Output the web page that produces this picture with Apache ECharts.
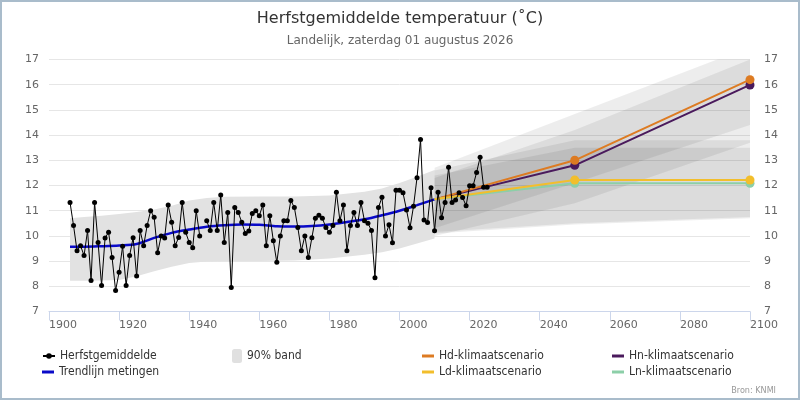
<!DOCTYPE html>
<html>
<head>
<meta charset="utf-8">
<script src="https://cdn.jsdelivr.net/npm/echarts@6/dist/echarts.min.js"></script>
<style>
  html, body { margin: 0; padding: 0; background: #fff; }
  #chart { width: 800px; height: 400px; }
</style>
</head>
<body>
<div id="chart"></div>
<script>
// herfstgemiddelde per jaar, vanaf 1906 (1944 ontbreekt)
var firstYear = 1906;
var autumnMean = [
  11.33, 10.41, 9.41, 9.61, 9.22, 10.21, 8.23, 11.33, 9.74, 8.03,
  9.92, 10.14, 9.14, 7.83, 8.56, 9.59, 8.03, 9.22, 9.93, 8.41,
  10.21, 9.61, 10.41, 11.0, 10.74, 9.33, 10.0, 9.92, 11.23, 10.54,
  9.61, 9.94, 11.33, 10.14, 9.74, 9.53, 11.0, 10.0, null, 10.6,
  10.21, 11.33, 10.21, 11.62, 9.74, 10.93, 7.95, 11.13, 10.93, 10.54,
  10.10, 10.19, 10.89, 11.0, 10.8, 11.23, 9.61, 10.8, 9.81, 8.95,
  10.0, 10.6, 10.6, 11.4, 11.13, 10.33, 9.41, 10.0, 9.14, 9.93,
  10.70, 10.82, 10.70, 10.33, 10.14, 10.41, 11.73, 10.60, 11.23, 9.41,
  10.41, 10.93, 10.41, 11.33, 10.60, 10.5, 10.21, 8.34, 11.13, 11.53,
  10.0, 10.44, 9.73, 11.81, 11.81, 11.71, 11.03, 10.32, 11.18, 12.31,
  13.83, 10.63, 10.53, 11.91, 10.2, 11.73, 10.72, 11.33, 12.72, 11.33,
  11.42, 11.71, 11.52, 11.2, 11.99, 11.99, 12.52, 13.12, 11.93, 11.93
];

// trendlijn metingen
var trendYears = [1906, 1910, 1915, 1920, 1925, 1930, 1935, 1940, 1945, 1950, 1955,
  1960, 1965, 1970, 1975, 1980, 1985, 1990, 1995, 2000, 2005, 2010];
var trendValues = [9.57, 9.57, 9.59, 9.62, 9.68, 9.92, 10.12, 10.25, 10.36, 10.42, 10.45,
  10.44, 10.38, 10.37, 10.39, 10.45, 10.55, 10.66, 10.82, 11.0, 11.22, 11.45];

// 90% band rond de trend
var bandYears = [1906, 1910, 1915, 1920, 1925, 1930, 1935, 1940, 1945, 1950, 1960,
  1970, 1980, 1990, 1995, 2000, 2005, 2010];
var bandLow = [8.22, 8.22, 8.23, 8.25, 8.4, 8.6, 8.78, 8.92, 8.98, 9.0, 9.0,
  9.02, 9.1, 9.25, 9.35, 9.5, 9.7, 9.9];
var bandHigh = [10.7, 10.75, 10.8, 10.87, 10.95, 11.05, 11.2, 11.4, 11.5, 11.55, 11.56,
  11.56, 11.6, 11.75, 11.88, 12.1, 12.35, 12.62];

// klimaatscenario's
var scenYears = [2010, 2050, 2100];
var hdValues = [11.45, 13.0, 16.2];
var hnValues = [11.45, 12.8, 15.99];
var ldValues = [11.45, 12.22, 12.22];
var lnValues = [11.45, 12.09, 12.09];

var hdLow = [10.3, 12.1, 14.4];
var hdHigh = [12.7, 14.84, 17.5];
var hnLow = [10.0, 11.3, 13.7];
var hnHigh = [12.3, 14.2, 17.0];
var ldLow = [10.15, 10.5, 10.75];
var ldHigh = [12.6, 13.8, 13.8];
var lnLow = [10.1, 10.45, 10.7];
var lnHigh = [12.4, 13.5, 13.5];

var font = "'DejaVu Sans', Verdana, sans-serif";
var legendFont = "'DejaVu Sans Condensed', 'Liberation Sans Narrow', 'DejaVu Sans', sans-serif";

var chart = echarts.init(document.getElementById('chart'));

function bandSeries(yrs, lo, hi, fill) {
  return {
    name: '90% band',
    type: 'custom',
    clip: true,
    silent: true,
    z: 1,
    itemStyle: { color: '#e0e0e0' },
    encode: { x: 0, y: [1, 2] },
    data: yrs.map(function (y, i) { return [y, lo[i], hi[i]]; }),
    renderItem: function (params, api) {
      if (params.dataIndex !== 0) return;
      var pts = [];
      for (var i = 0; i < yrs.length; i++) pts.push(api.coord([yrs[i], hi[i]]));
      for (var j = yrs.length - 1; j >= 0; j--) pts.push(api.coord([yrs[j], lo[j]]));
      return { type: 'polygon', shape: { points: pts }, style: { fill: fill } };
    }
  };
}

function scenarioSeries(name, values, color) {
  return {
    name: name,
    type: 'line',
    z: 4,
    symbol: 'circle',
    symbolSize: 9,
    color: color,
    lineStyle: { color: color, width: 2 },
    itemStyle: { color: color },
    data: scenYears.map(function (y, i) {
      if (i === 0) return { value: [y, values[i]], symbol: 'none' };
      return [y, values[i]];
    })
  };
}

function legendAt(left, top, name, extra) {
  var l = {
    left: left,
    top: top,
    orient: 'vertical',
    padding: 0,
    itemGap: 0,
    itemWidth: 12,
    itemHeight: 3,
    selectedMode: false,
    textStyle: { fontFamily: legendFont, fontSize: 12, color: '#333', lineHeight: 14 },
    data: [{ name: name, icon: 'rect' }]
  };
  return Object.assign(l, extra || {});
}

var option = {
  animation: false,
  backgroundColor: '#fff',
  title: {
    text: 'Herfstgemiddelde temperatuur (˚C)',
    subtext: 'Landelijk, zaterdag 01 augustus 2026',
    left: 'center',
    top: 6,
    itemGap: 8,
    textStyle: { fontFamily: font, fontSize: 16, fontWeight: 'normal', color: '#333' },
    subtextStyle: { fontFamily: font, fontSize: 12, color: '#666' }
  },
  grid: { left: 49, right: 50, top: 59.5, bottom: 88.5 },
  xAxis: {
    type: 'value',
    min: 1900,
    max: 2100,
    interval: 20,
    splitLine: { show: false },
    axisLine: { lineStyle: { color: '#ccd6eb' } },
    axisTick: { length: 9, lineStyle: { color: '#ccd6eb' } },
    axisLabel: {
      align: 'left', margin: 8, color: '#666', fontFamily: font, fontSize: 11,
      formatter: function (v) { return String(v); }
    }
  },
  yAxis: [
    {
      type: 'value',
      min: 7,
      max: 17,
      interval: 1,
      axisLine: { show: false },
      axisTick: { show: false },
      splitLine: { lineStyle: { color: '#e6e6e6' } },
      axisLabel: { margin: 10, color: '#666', fontFamily: font, fontSize: 11 }
    },
    {
      type: 'value',
      position: 'right',
      min: 7,
      max: 17,
      interval: 1,
      axisLine: { show: false },
      axisTick: { show: false },
      splitLine: { show: false },
      axisLabel: { margin: 14, color: '#666', fontFamily: font, fontSize: 11 }
    }
  ],
  legend: [
    legendAt(42, 349, 'Herfstgemiddelde', {
      itemHeight: 7,
      data: [{ name: 'Herfstgemiddelde' }]
    }),
    legendAt(42, 365, 'Trendlijn metingen'),
    legendAt(232, 349, '90% band', {
      itemWidth: 10,
      itemHeight: 14,
      data: [{ name: '90% band', icon: 'roundRect', itemStyle: { color: '#e0e0e0' } }]
    }),
    legendAt(422, 349, 'Hd-klimaatscenario'),
    legendAt(422, 365, 'Ld-klimaatscenario'),
    legendAt(612, 349, 'Hn-klimaatscenario'),
    legendAt(612, 365, 'Ln-klimaatscenario')
  ],
  graphic: [
    {
      type: 'rect',
      silent: true,
      z: 100,
      shape: { x: 1, y: 1, width: 798, height: 398 },
      style: { fill: null, stroke: '#a9bccb', lineWidth: 2 }
    },
    {
      type: 'text',
      right: 24,
      top: 386,
      silent: true,
      style: { text: 'Bron: KNMI', fill: '#999', font: '9px ' + legendFont }
    }
  ],
  series: [
    bandSeries(bandYears, bandLow, bandHigh, '#e2e2e2'),
    bandSeries(scenYears, hdLow, hdHigh, 'rgba(0,0,0,0.07)'),
    bandSeries(scenYears, hnLow, hnHigh, 'rgba(0,0,0,0.07)'),
    bandSeries(scenYears, ldLow, ldHigh, 'rgba(0,0,0,0.07)'),
    bandSeries(scenYears, lnLow, lnHigh, 'rgba(0,0,0,0.07)'),
    {
      name: 'Trendlijn metingen',
      type: 'line',
      z: 3,
      smooth: 0.3,
      symbol: 'none',
      color: '#0a0ac8',
      lineStyle: { color: '#0a0ac8', width: 2.5 },
      data: trendYears.map(function (y, i) { return [y, trendValues[i]]; })
    },
    scenarioSeries('Hn-klimaatscenario', hnValues, '#4a1a5c'),
    scenarioSeries('Hd-klimaatscenario', hdValues, '#dd7b22'),
    scenarioSeries('Ln-klimaatscenario', lnValues, '#8ccfa8'),
    scenarioSeries('Ld-klimaatscenario', ldValues, '#f2be2c'),
    {
      name: 'Herfstgemiddelde',
      type: 'line',
      z: 5,
      symbol: 'circle',
      symbolSize: 5,
      color: '#000',
      lineStyle: { color: '#000', width: 1 },
      itemStyle: { color: '#000' },
      data: autumnMean.map(function (v, i) { return [firstYear + i, v]; })
    }
  ]
};

chart.setOption(option);
</script>
</body>
</html>
